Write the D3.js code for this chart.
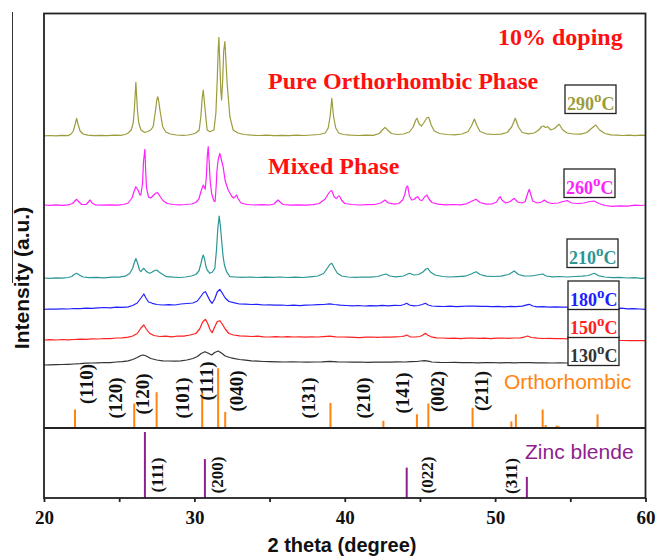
<!DOCTYPE html>
<html><head><meta charset="utf-8">
<script src="https://cdn.jsdelivr.net/npm/d3@7"></script>
<style>
html,body{margin:0;padding:0;background:#fff;}
svg{display:block;}
</style></head><body>
<svg id="chart" width="658" height="556"></svg>
<script>
// ---- data -------------------------------------------------------------
const temps = ["130", "150", "180", "210", "260", "290"];
const stackOffset = [40, 290, 600, 900, 1620, 2320];   // vertical stacking, a.u.

// [2θ (deg), intensity (a.u.)]
const xrd130 = [[20,-10],[20.4,-8],[20.8,-6],[21.2,-5],[21.6,-3],[22,0],[22.4,3],[22.8,8],[23.2,10],[23.6,12],[24,15],[24.4,14],[24.8,20],[25.2,24],[25.6,32],[25.9,45],[26.2,65],[26.45,85],[26.6,90],[26.8,80],[27.1,55],[27.5,40],[27.9,32],[28.3,30],[28.7,28],[29.1,32],[29.5,40],[29.9,55],[30.2,75],[30.45,105],[30.7,123],[30.9,110],[31.15,90],[31.35,115],[31.58,130],[31.8,110],[32.05,80],[32.35,65],[32.6,57],[33,45],[33.4,38],[33.8,32],[34.2,28],[34.6,25],[35,24],[35.5,22],[36,20],[36.5,22],[37,20],[37.5,18],[38,20],[38.5,22],[39,26],[39.5,22],[40,20],[40.5,18],[41,20],[41.5,17],[42,18],[42.5,20],[43,19],[43.5,21],[44,20],[44.4,24],[44.8,25],[45.05,30],[45.3,33],[45.55,28],[45.8,20],[46.3,16],[46.8,15],[47.3,17],[47.8,14],[48.3,15],[48.8,12],[49.3,14],[49.8,15],[50.3,12],[50.8,13],[51.3,12],[51.8,15],[52.3,13],[52.8,12],[53.3,12],[53.8,10],[54.3,11],[54.8,10],[55.3,9],[55.8,8],[56.3,9],[56.8,8],[57.3,8],[57.9,8]];
const xrd150 = [[20,-10],[20.4,-7],[20.8,-10],[21.2,-5],[21.6,-8],[22,-5],[22.4,-2],[22.8,-4],[23.2,2],[23.6,0],[24,5],[24.4,3],[24.8,10],[25.2,12],[25.6,18],[25.9,30],[26.2,55],[26.45,110],[26.64,140],[26.8,100],[27,60],[27.3,35],[27.7,25],[28.1,28],[28.5,22],[28.9,30],[29.3,28],[29.7,40],[30.1,55],[30.35,100],[30.55,170],[30.74,197],[30.9,150],[31.05,90],[31.18,63],[31.35,120],[31.52,175],[31.69,183],[31.85,150],[32.05,100],[32.3,55],[32.6,40],[33,32],[33.4,28],[33.8,25],[34.2,28],[34.6,22],[35,20],[35.4,24],[35.8,20],[36.2,23],[36.6,20],[37,22],[37.4,18],[37.8,22],[38.2,20],[38.6,24],[39,28],[39.4,22],[39.8,20],[40.2,18],[40.6,16],[41,14],[41.4,18],[41.8,20],[42.2,17],[42.6,20],[43,18],[43.4,22],[43.8,25],[44,32],[44.12,40],[44.35,22],[44.7,20],[45,25],[45.2,40],[45.36,57],[45.5,40],[45.75,22],[46.1,12],[46.5,10],[46.9,6],[47.3,8],[47.7,4],[48.1,8],[48.5,10],[48.9,6],[49.3,8],[49.7,4],[50.1,8],[50.5,10],[50.9,7],[51.3,10],[51.7,12],[52,22],[52.16,30],[52.4,15],[52.8,8],[53.2,5],[53.6,7],[54,3],[54.4,5],[54.8,2],[55.2,0],[55.6,2],[56,-4],[56.4,-5],[56.8,-8],[57.2,-10],[57.6,-12],[58,-14],[58.5,-15],[59,-16],[59.5,-17],[60,-17]];
const xrd180 = [[20,-13],[20.4,-10],[20.8,-12],[21.2,-8],[21.6,-10],[22,-5],[22.4,-7],[22.8,-2],[23.2,-4],[23.6,2],[24,5],[24.4,2],[24.8,8],[25.2,6],[25.6,12],[25.9,25],[26.2,50],[26.45,100],[26.64,140],[26.78,100],[26.95,60],[27.2,47],[27.5,35],[27.9,30],[28.3,34],[28.7,30],[29.1,40],[29.5,45],[29.9,50],[30.2,70],[30.45,120],[30.62,155],[30.74,163],[30.88,120],[31.05,70],[31.18,47],[31.35,90],[31.52,160],[31.69,187],[31.85,150],[32.05,100],[32.3,65],[32.6,53],[33,40],[33.4,38],[33.8,35],[34.2,37],[34.6,30],[35,32],[35.4,28],[35.8,30],[36.2,25],[36.6,28],[37,24],[37.4,28],[37.8,30],[38.2,33],[38.6,35],[39,42],[39.3,35],[39.7,28],[40.1,25],[40.5,22],[40.9,25],[41.3,20],[41.7,24],[42.1,22],[42.5,26],[42.9,22],[43.3,26],[43.7,25],[43.95,35],[44.12,47],[44.3,30],[44.6,22],[44.9,25],[45.15,35],[45.36,47],[45.55,30],[45.8,20],[46.2,17],[46.6,15],[47,18],[47.4,14],[47.8,17],[48.2,20],[48.6,18],[49,16],[49.4,17],[49.8,13],[50.2,16],[50.6,12],[51,16],[51.4,14],[51.8,18],[52.05,28],[52.27,37],[52.5,20],[52.8,12],[53.2,14],[53.6,8],[54,12],[54.4,8],[54.8,10],[55.2,4],[55.6,6],[56,2],[56.4,6],[56.8,0],[57.2,3],[57.6,-2],[58,-5],[58.4,-2],[58.8,-8],[59.2,-6],[59.6,-10],[60,-13]];
const xrd210 = [[20,0],[20.4,-3],[20.8,2],[21.2,-2],[21.6,5],[21.85,15],[22,35],[22.17,47],[22.35,30],[22.6,10],[23,3],[23.5,6],[24,2],[24.5,8],[25,8],[25.4,18],[25.7,45],[25.9,100],[26,150],[26.11,195],[26.22,150],[26.35,80],[26.44,63],[26.55,85],[26.64,97],[26.75,75],[26.9,55],[27.04,47],[27.2,60],[27.35,75],[27.49,80],[27.65,60],[27.9,35],[28.15,13],[28.6,8],[29,5],[29.4,10],[29.8,20],[30.1,35],[30.3,70],[30.43,140],[30.52,200],[30.59,230],[30.68,190],[30.76,120],[30.85,80],[31.03,47],[31.2,60],[31.36,97],[31.47,280],[31.56,500],[31.65,620],[31.73,520],[31.81,380],[31.91,213],[32,130],[32.14,63],[32.36,13],[32.7,10],[33.2,6],[33.7,10],[34.2,5],[34.7,9],[35.2,6],[35.7,10],[36.2,5],[36.7,9],[37.2,5],[37.7,12],[38.2,20],[38.6,45],[38.85,100],[39,135],[39.14,147],[39.3,100],[39.5,50],[39.8,20],[40.2,10],[40.7,6],[41.2,10],[41.7,8],[42.2,15],[42.5,30],[42.74,40],[43,20],[43.4,12],[43.9,20],[44.3,47],[44.6,30],[44.9,35],[45.2,60],[45.4,90],[45.52,97],[45.7,60],[46,30],[46.5,15],[47,10],[47.5,14],[48,18],[48.4,40],[48.73,63],[49,35],[49.4,18],[49.9,15],[50.4,18],[50.9,35],[51.27,70],[51.55,35],[51.9,22],[52.4,20],[52.8,30],[53.16,40],[53.4,20],[53.8,12],[54.3,15],[54.8,10],[55.3,15],[55.8,18],[56.2,25],[56.59,47],[56.9,22],[57.3,10],[57.8,4],[58.3,7],[58.8,0],[59.3,3],[59.7,-3],[60,-2]];
const xrd260 = [[20,10],[20.4,6],[20.8,11],[21.2,7],[21.6,12],[21.9,25],[22.05,50],[22.17,67],[22.3,45],[22.5,15],[22.8,15],[22.95,40],[23.06,60],[23.2,30],[23.4,12],[23.9,8],[24.4,12],[24.9,9],[25.3,15],[25.6,30],[25.85,80],[26,150],[26.11,193],[26.25,160],[26.38,110],[26.44,110],[26.55,220],[26.62,450],[26.71,567],[26.76,350],[26.82,180],[26.95,90],[27.1,80],[27.3,110],[27.45,130],[27.55,133],[27.7,100],[27.9,55],[28.2,25],[28.6,15],[29,12],[29.4,15],[29.8,20],[30.1,35],[30.3,70],[30.45,150],[30.59,210],[30.72,167],[30.8,300],[30.86,500],[30.92,593],[30.98,450],[31.05,250],[31.15,120],[31.3,50],[31.38,45],[31.45,200],[31.5,350],[31.58,460],[31.69,527],[31.8,460],[31.91,393],[32.05,250],[32.25,160],[32.47,100],[32.6,80],[32.7,90],[32.8,110],[32.92,70],[33.1,30],[33.5,15],[34,10],[34.5,14],[35,10],[35.3,20],[35.45,45],[35.57,60],[35.7,40],[35.9,15],[36.4,8],[36.9,12],[37.4,8],[37.9,14],[38.3,25],[38.7,70],[38.9,120],[39.05,150],[39.14,153],[39.3,90],[39.45,75],[39.58,100],[39.65,100],[39.8,55],[40,25],[40.5,15],[41,10],[41.5,14],[42,15],[42.4,30],[42.68,60],[42.9,30],[43.3,18],[43.6,25],[43.85,60],[44,120],[44.1,190],[44.19,200],[44.3,100],[44.45,60],[44.6,65],[44.75,85],[44.85,93],[45,60],[45.15,55],[45.3,90],[45.47,110],[45.6,70],[45.8,35],[46.2,18],[46.7,12],[47.2,15],[47.7,12],[48.1,22],[48.4,45],[48.73,67],[49,35],[49.4,18],[49.8,20],[50.1,40],[50.25,80],[50.34,93],[50.45,60],[50.7,30],[51,45],[51.27,77],[51.5,40],[51.8,30],[52,45],[52.15,120],[52.27,167],[52.38,110],[52.5,50],[52.8,30],[53.1,40],[53.27,60],[53.5,35],[53.8,25],[54.2,30],[54.5,45],[54.82,53],[55.1,30],[55.5,25],[55.9,30],[56.3,45],[56.59,50],[56.9,25],[57.3,5],[57.8,-3],[58.3,2],[58.8,-2],[59.3,8],[59.7,5],[60,10]];
const xrd290 = [[20,2],[20.4,5],[20.8,2],[21.2,6],[21.6,4],[21.8,20],[21.95,50],[22.08,120],[22.17,177],[22.26,120],[22.4,50],[22.6,20],[22.9,8],[23.3,4],[23.8,7],[24.2,4],[24.7,8],[25.1,6],[25.4,15],[25.6,30],[25.8,60],[25.93,130],[26,250],[26.06,400],[26.11,537],[26.16,400],[26.22,250],[26.3,130],[26.45,60],[26.7,35],[26.9,45],[27.1,60],[27.26,93],[27.42,260],[27.5,360],[27.57,393],[27.64,340],[27.71,260],[27.89,93],[28.1,40],[28.4,20],[28.8,10],[29.2,6],[29.6,10],[29.9,20],[30.1,30],[30.32,60],[30.43,193],[30.52,380],[30.59,460],[30.66,350],[30.76,193],[30.85,60],[31.03,43],[31.3,60],[31.43,227],[31.52,560],[31.58,850],[31.63,987],[31.7,700],[31.76,450],[31.81,360],[31.88,550],[31.95,850],[32.03,943],[32.1,750],[32.18,520],[32.25,393],[32.36,193],[32.58,60],[32.9,30],[33.3,15],[33.8,8],[34.3,5],[34.8,9],[35.3,4],[35.8,7],[36.3,3],[36.8,8],[37.3,5],[37.8,10],[38.3,15],[38.7,30],[38.9,80],[39.03,200],[39.14,377],[39.25,200],[39.4,80],[39.6,30],[39.9,15],[40.4,8],[40.9,5],[41.4,8],[41.9,6],[42.3,25],[42.5,60],[42.68,87],[42.85,60],[43.1,25],[43.5,15],[43.9,20],[44.3,40],[44.55,90],[44.72,160],[44.8,177],[44.95,120],[45.1,100],[45.25,130],[45.45,180],[45.58,187],[45.75,110],[45.95,50],[46.3,25],[46.8,15],[47.3,12],[47.8,20],[48.2,45],[48.42,100],[48.62,170],[48.8,100],[49,45],[49.4,22],[49.9,15],[50.4,18],[50.8,35],[51.1,90],[51.34,177],[51.55,90],[51.8,35],[52.2,22],[52.6,30],[52.9,60],[53.1,95],[53.22,100],[53.35,85],[53.49,93],[53.7,60],[53.95,75],[54.26,117],[54.5,60],[54.8,30],[55.2,20],[55.7,18],[56.1,35],[56.4,75],[56.7,110],[56.95,60],[57.3,25],[57.7,12],[58.1,8],[58.5,5],[58.9,8],[59.3,4],[59.7,9],[60,6]];
const traces = [xrd130, xrd150, xrd180, xrd210, xrd260, xrd290];

// reference patterns: [2θ, relative intensity]
const orthoPeaks = [[22.06,31],[26.0,41],[27.49,60],[30.52,61],[31.58,100],[32.05,27],[39.05,42],[42.57,12],[44.8,23],[45.56,41],[48.5,34],[51.08,11],[51.38,23],[53.16,31],[53.36,5],[54.09,4],[54.22,3],[56.81,23]];
const orthoLabels = [["(110)",22.84],["(120)",24.78],["(120)",26.58],["(101)",29.22],["(111)",30.81],["(040)",32.80],["(131)",37.56],["(210)",41.26],["(141)",43.85],["(002)",46.18],["(211)",49.10]];
const zincPeaks = [[26.71,100],[30.70,59],[44.12,46],[52.11,32]];
const zincLabels = [["(111)",27.55],["(200)",31.54],["(022)",45.47],["(311)",51.12]];
const xTicks = [20, 30, 40, 50, 60];
const xMinorTicks = [25, 35, 45, 55];

// ---- layout & style ---------------------------------------------------
const colors = ["#333333", "#ff2020", "#2020ff", "#2a9696", "#ff20ff", "#9c9c3c"];
const boxTop = [337, 309, 281, 239, 169, 85];
const boxLeft = [568, 568, 568, 567, 564, 565];
const orthoLabelY = [384, 398, 394, 398, 381, 391, 398, 398, 393, 391.5, 391];
const zincLabelY = [475, 475, 475, 476];
const serif = "'Liberation Serif','Times New Roman',serif";
const sans = "'Liberation Sans',Arial,sans-serif";

const L = 44, R = 645.5, T = 13.5, B = 498, DIV = 428;

const svg = d3.select("#chart");
const x = d3.scaleLinear().domain([20, 60]).range([L, R]);
const yT = d3.scaleLinear().domain([0, 3540]).range([368, 14]);
const yO = d3.scaleLinear().domain([0, 100]).range([DIV, 368.3]);
const yZ = d3.scaleLinear().domain([0, 100]).range([B, 432]);

// stray vertical rule at far left
svg.append("line").attr("x1", 12.5).attr("x2", 12.5).attr("y1", 12).attr("y2", 283)
  .attr("stroke", "#333").attr("stroke-width", 1);

// XRD traces
traces.forEach((tr, i) => {
  const line = d3.line().x(d => x(d[0])).y(d => yT(d[1] + stackOffset[i]));
  svg.append("path").attr("d", line(tr)).attr("fill", "none")
    .attr("stroke", colors[i]).attr("stroke-width", 1.2).attr("stroke-linejoin", "round");
});

// temperature boxes
temps.forEach((t, i) => {
  const g = svg.append("g").attr("transform", `translate(${boxLeft[i]},${boxTop[i]})`);
  g.append("rect").attr("width", 51).attr("height", 28.5).attr("fill", "#fff")
    .attr("stroke", "#222").attr("stroke-width", 1.3);
  const tx = g.append("text").attr("x", 2).attr("y", 25).attr("font-family", serif)
    .attr("font-weight", "bold").attr("fill", colors[i]);
  tx.append("tspan").attr("font-size", 18).text(t);
  tx.append("tspan").attr("font-size", 15).attr("dy", -8).text("o");
  tx.append("tspan").attr("font-size", 18).attr("dy", 8).text("C");
});

// orthorhombic sticks
svg.selectAll(".ortho").data(orthoPeaks).join("line")
  .attr("x1", d => x(d[0])).attr("x2", d => x(d[0]))
  .attr("y1", yO(0)).attr("y2", d => yO(d[1]))
  .attr("stroke", "#ff8410").attr("stroke-width", 2);
svg.selectAll(".olab").data(orthoLabels).join("text")
  .attr("transform", (d, i) => `translate(${x(d[1])},${orthoLabelY[i]}) rotate(-90)`)
  .attr("text-anchor", "middle").attr("dominant-baseline", "central")
  .attr("font-family", serif).attr("font-weight", "bold").attr("font-size", 19)
  .attr("fill", "#111").text(d => d[0]);

// zinc blende sticks
svg.selectAll(".zinc").data(zincPeaks).join("line")
  .attr("x1", d => x(d[0])).attr("x2", d => x(d[0]))
  .attr("y1", yZ(0)).attr("y2", d => yZ(d[1]))
  .attr("stroke", "#8e1f8e").attr("stroke-width", 2);
svg.selectAll(".zlab").data(zincLabels).join("text")
  .attr("transform", (d, i) => `translate(${x(d[1])},${zincLabelY[i]}) rotate(-90)`)
  .attr("text-anchor", "middle").attr("dominant-baseline", "central")
  .attr("font-family", serif).attr("font-weight", "bold").attr("font-size", 17)
  .attr("fill", "#111").text(d => d[0]);

// panel names
svg.append("text").attr("x", 504).attr("y", 389).attr("font-family", sans)
  .attr("font-size", 21).attr("fill", "#ff8410").text("Orthorhombic");
svg.append("text").attr("x", 525).attr("y", 458.5).attr("font-family", sans)
  .attr("font-size", 21).attr("fill", "#8e1f8e").text("Zinc blende");

// annotations
const ann = [["10% doping", 498, 45], ["Pure Orthorhombic Phase", 268, 88.5], ["Mixed Phase", 268, 173.5]];
ann.forEach(a => svg.append("text").attr("x", a[1]).attr("y", a[2])
  .attr("font-family", serif).attr("font-weight", "bold").attr("font-size", 24)
  .attr("fill", "#ff1010").text(a[0]));

// frame and panel divider
svg.append("rect").attr("x", L).attr("y", T).attr("width", R - L).attr("height", B - T)
  .attr("fill", "none").attr("stroke", "#222").attr("stroke-width", 1.8);
svg.append("line").attr("x1", L).attr("x2", R).attr("y1", DIV).attr("y2", DIV)
  .attr("stroke", "#222").attr("stroke-width", 1.8);

// x axis
const ax = svg.append("g").attr("transform", `translate(0,${B})`)
  .call(d3.axisBottom(x).tickValues(xTicks.concat(xMinorTicks)).tickSize(4)
    .tickFormat(d => xTicks.includes(d) ? d : ""));
ax.select(".domain").remove();
ax.selectAll(".tick line").attr("stroke", "#222").attr("stroke-width", 1.8);
ax.selectAll(".tick text").attr("font-family", serif).attr("font-weight", "bold")
  .attr("font-size", 19).attr("fill", "#111").attr("dy", "1.0em");

svg.append("text").attr("x", 342).attr("y", 552).attr("text-anchor", "middle")
  .attr("font-family", sans).attr("font-weight", "bold").attr("font-size", 20)
  .attr("fill", "#111").text("2 theta (degree)");
svg.append("text").attr("transform", "translate(29,278) rotate(-90)")
  .attr("text-anchor", "middle").attr("font-family", sans).attr("font-weight", "bold")
  .attr("font-size", 21).attr("fill", "#111").text("Intensity (a.u.)");
</script>
</body></html>
